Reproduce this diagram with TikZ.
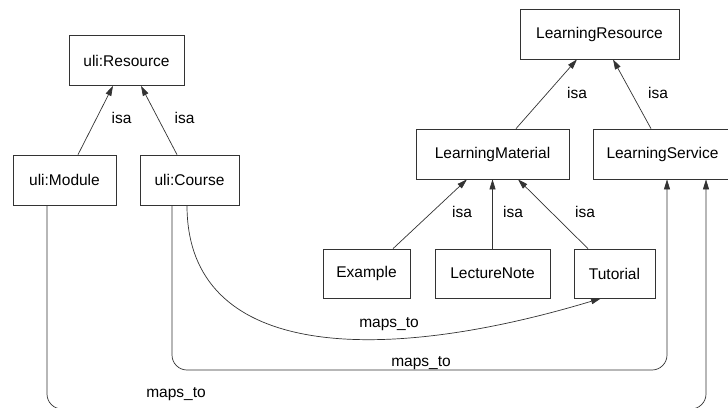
\documentclass[tikz,border=0pt]{standalone}
\usepackage{fontspec}
\setmainfont{Liberation Sans}
\usetikzlibrary{arrows.meta,calc}
\begin{document}
\begin{tikzpicture}[x=1pt,y=-1pt,
  box/.style={draw=black!80, line width=0.7pt, minimum height=50pt, inner sep=0pt, font=\fontsize{15.5}{18}\selectfont},
  lbl/.style={anchor=base, inner sep=0pt, font=\fontsize{15.5}{18}\selectfont},
  arr/.style={draw=black!80, line width=0.7pt, -{Triangle[length=10pt,width=6pt]}}
]
\fill[white] (0,0) rectangle (728,407);
\useasboundingbox (0,0) rectangle (728,407);

\node[box, minimum width=115pt] (res) at (126.5,60.5) {uli:Resource};
\node[box, minimum width=103pt] (mod) at (64.5,180) {uli:Module};
\node[box, minimum width=99pt] (crs) at (189.5,180) {uli:Course};
\node[box, minimum width=159pt] (lr) at (599.5,34) {LearningResource};
\node[box, minimum width=153pt] (lm) at (492.5,154) {LearningMaterial};
\node[box, minimum width=139pt] (ls) at (662.5,154) {LearningService};
\node[box, minimum width=87pt, minimum height=49pt] (ex) at (366.5,273.5) {Example};
\node[box, minimum width=115pt, minimum height=49pt] (lec) at (492.5,273.5) {LectureNote};
\node[box, minimum width=81pt, minimum height=49pt] (tut) at (614.5,273.5) {Tutorial};

\draw[arr] ([xshift=13.5pt]mod.north) -- ([xshift=-13.5pt]res.south);
\draw[arr] ([xshift=-12.5pt]crs.north) -- ([xshift=14.5pt]res.south);
\draw[arr] ([xshift=23.5pt]lm.north) -- ([xshift=-22.5pt]lr.south);
\draw[arr] ([xshift=-11.5pt]ls.north) -- ([xshift=13.5pt]lr.south);
\draw[arr] ([xshift=26.5pt]ex.north) -- ([xshift=-25.5pt]lm.south);
\draw[arr] (lec.north) -- (lm.south);
\draw[arr] ([xshift=-26.5pt]tut.north) -- ([xshift=25.5pt]lm.south);

\draw[arr] ([xshift=-2.5pt]crs.south) .. controls (187,360) and (380,365) .. ([xshift=-13.5pt]tut.south);
\coordinate (cA) at (667,370);
\coordinate (cB) at (706,409);
\draw[arr, rounded corners=15pt] ([xshift=-17.5pt]crs.south) |- (cA) -- ([xshift=4.5pt]ls.south);
\draw[arr, rounded corners=15pt] ([xshift=-17.5pt]mod.south) |- (cB) -- ([xshift=43.5pt]ls.south);

\node[lbl] (i1) at (121.5,123) {isa};
\node[lbl] (i2) at (184.5,123) {isa};
\node[lbl] (i3) at (577,98) {isa};
\node[lbl] (i4) at (658,98) {isa};
\node[lbl] (i5) at (462,217) {isa};
\node[lbl] (i6) at (513,217) {isa};
\node[lbl] (i7) at (585,217) {isa};
\node[lbl] (m1) at (389,327) {maps\_to};
\node[lbl] (m2) at (421,366) {maps\_to};
\node[lbl] (m3) at (176,397) {maps\_to};
\end{tikzpicture}
\end{document}
